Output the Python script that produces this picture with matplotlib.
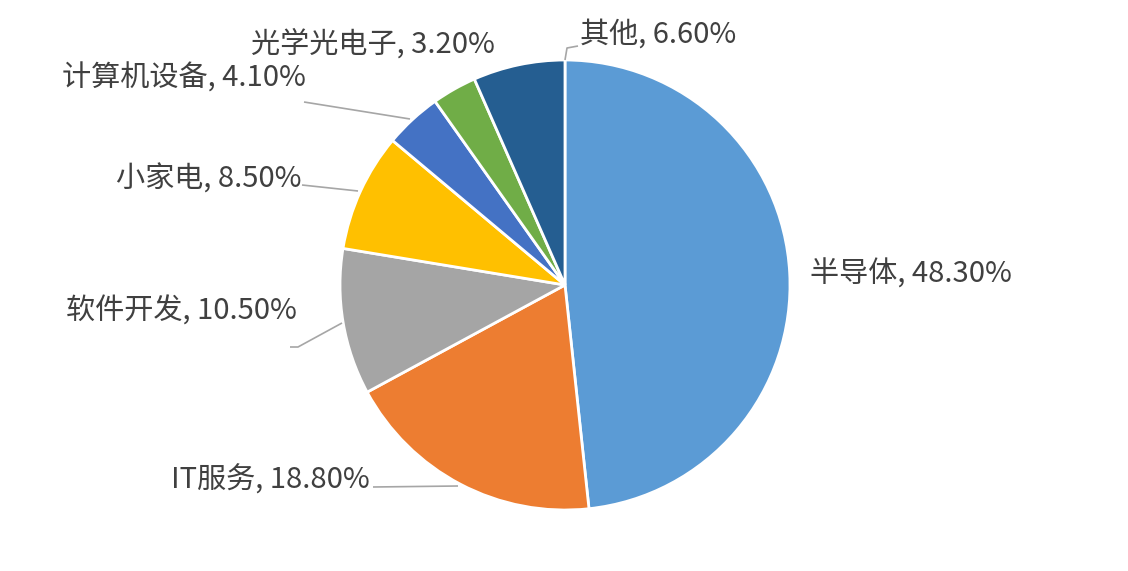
import matplotlib.pyplot as plt

plt.rcParams['font.family'] = ['Noto Sans CJK SC', 'DejaVu Sans']

categories = ['半导体', 'IT服务', '软件开发', '小家电', '计算机设备', '光学光电子', '其他']
shares = [48.3, 18.8, 10.5, 8.5, 4.1, 3.2, 6.6]
colors = ['#5B9BD5', '#ED7D31', '#A5A5A5', '#FFC000', '#4472C4', '#70AD47', '#255E91']

W, H = 1128, 571
cx, cy, R = 565, 285, 225


def px(x, y):
    # pixel position -> data units (pie radius = 1)
    return (x - cx) / R, (cy - y) / R


fig = plt.figure(figsize=(W / 100, H / 100), dpi=100)
ax = fig.add_axes([0, 0, 1, 1])
ax.pie(shares, colors=colors, startangle=90, counterclock=False, radius=1,
       wedgeprops=dict(edgecolor='white', linewidth=2))
ax.set_xlim(-cx / R, (W - cx) / R)
ax.set_ylim(-(H - cy) / R, cy / R)
ax.axis('off')

# label placement: (text pos, ha, leader points)
layout = [
    ((810, 275), 'left', None),
    ((370, 480), 'right', [(458, 486), (373, 487)]),
    ((297, 312), 'right', [(342, 323), (298, 347), (290, 347)]),
    ((301, 180), 'right', [(358, 191), (302, 185)]),
    ((306, 79), 'right', [(410, 119), (304, 102)]),
    ((495, 44), 'right', None),
    ((580, 35), 'left', [(565, 60), (567, 48), (578, 46)]),
]

for name, val, (pos, ha, lead) in zip(categories, shares, layout):
    x, y = px(*pos)
    ax.text(x, y, f'{name}, {val:.2f}%', ha=ha, va='center', fontsize=21,
            color='#404040')
    if lead:
        pts = [px(a, b) for a, b in lead]
        ax.plot([p[0] for p in pts], [p[1] for p in pts], color='#A6A6A6',
                lw=1.2, solid_capstyle='butt')

fig.savefig('out.png', dpi=100, facecolor='white')
